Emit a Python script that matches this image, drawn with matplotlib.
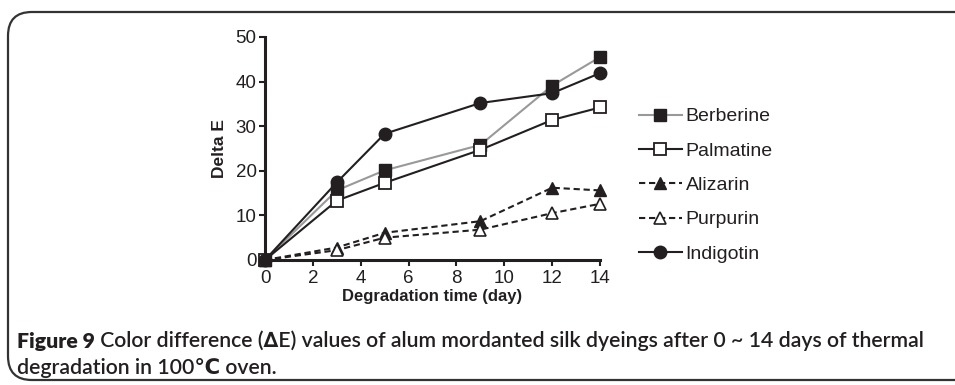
import matplotlib.pyplot as plt
from matplotlib.patches import FancyBboxPatch

# Data
days = [0, 3, 5, 9, 12, 14]
berberine = [0, 15.6, 20.1, 25.8, 39.1, 45.5]
palmatine = [0, 13.3, 17.3, 24.7, 31.4, 34.2]
alizarin = [0, 2.8, 6.1, 8.7, 16.2, 15.6]
purpurin = [0, 2.2, 5.0, 6.8, 10.5, 12.6]
indigotin = [0, 17.4, 28.3, 35.2, 37.4, 41.9]

ink = '#231f20'
plt.rcParams['font.family'] = ['Liberation Sans', 'DejaVu Sans']

fig = plt.figure(figsize=(9.55, 3.85), dpi=100)
ax = fig.add_axes([0.2775, 0.3247, 0.3508, 0.5792])

kw = dict(markersize=9, linewidth=1.5, clip_on=False, zorder=3)
ax.plot(days, berberine, color='#999999', marker='s', mfc=ink, mec=ink, label='Berberine', **kw)
ax.plot(days, palmatine, color=ink, marker='s', mfc='white', mec=ink, mew=1.3, label='Palmatine', **kw)
ax.plot(days, alizarin, color=ink, ls=(0, (3, 1.8)), marker='^', mfc=ink, mec=ink, label='Alizarin', **kw)
ax.plot(days, purpurin, color=ink, ls=(0, (3, 1.8)), marker='^', mfc='white', mec=ink, mew=1.2, label='Purpurin', **kw)
ax.plot(days, indigotin, color=ink, marker='o', mfc=ink, mec=ink, label='Indigotin', **kw)

ax.set_xlim(0, 14)
ax.set_ylim(0, 50)
ax.set_xticks(range(0, 15, 2))
ax.set_yticks(range(0, 51, 10))
for s in ['top', 'right']:
    ax.spines[s].set_visible(False)
for s in ['left', 'bottom']:
    ax.spines[s].set_linewidth(2.2)
    ax.spines[s].set_color(ink)
ax.tick_params(direction='out', length=4, width=1.5, colors=ink, labelsize=13.5, pad=2)
ax.tick_params(axis='x', pad=3)
ax.set_xlabel('Degradation time (day)', fontsize=12, fontweight='bold', color=ink, labelpad=2)
ax.set_ylabel('Delta E', fontsize=12.5, fontweight='bold', color=ink, labelpad=6)

fig.legend(loc='upper left', bbox_to_anchor=(0.661, 0.74), frameon=False,
           fontsize=14, handlelength=2.2, handletextpad=0.2, labelspacing=0.86,
           labelcolor=ink, borderaxespad=0)

# rounded frame around the figure panel
frame = FancyBboxPatch((8 / 955, 5 / 385), 1.2, 368 / 385, transform=fig.transFigure,
                       boxstyle='round,pad=0,rounding_size=0.025', fill=False,
                       edgecolor='#333333', linewidth=1.6, mutation_aspect=955 / 385)
fig.add_artist(frame)

cap_font = ['Lato', 'DejaVu Sans']
cap1 = fig.text(17 / 955, 1 - 348 / 385, 'Figure 9', family=cap_font, fontweight='heavy',
                fontsize=15.3, color=ink)
ax.annotate(' Color difference (\u2206E) values of alum mordanted silk dyeings after 0 ~ 14 days of thermal',
            xy=(1, 0), xycoords=cap1, va='bottom', ha='left', family=cap_font,
            fontweight='semibold', fontsize=15.3, color=ink, annotation_clip=False)
fig.text(17 / 955, 1 - 374 / 385, 'degradation in 100\u2103 oven.', family=cap_font,
         fontweight='semibold', fontsize=15.3, color=ink)

fig.savefig('out.png', dpi=100)
